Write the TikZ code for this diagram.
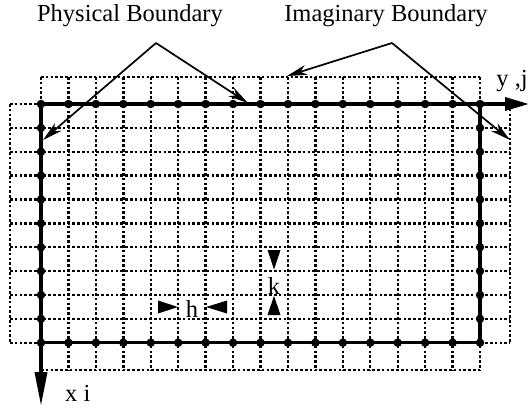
\documentclass[tikz,border=0pt]{standalone}
\usepackage{fontspec}
\setmainfont{Liberation Serif}
\usetikzlibrary{arrows.meta}
\begin{document}
\begin{tikzpicture}[x=1pt,y=-1pt,every node/.style={font=\fontsize{24.5}{28}\selectfont,inner sep=0pt},
  imag/.style={line width=2.4pt,dash pattern=on 2.6pt off 2.2pt},
  phys/.style={line width=3.5pt},
  ptr/.style={line width=1.7pt,-{Stealth[length=20pt,width=10pt,inset=6pt]}},
  gridpt/.style={circle,fill,inner sep=0pt,minimum size=8.5pt}]
\useasboundingbox (0,0) rectangle (530,410);
\def\h{27.44} \def\k{23.87}
% imaginary cells and inner grid
\foreach \i in {0,...,16} \draw[imag] (41+\i*\h,77) -- (41+\i*\h,370);
\foreach \j in {0,...,10} \draw[imag] (10,104+\j*\k) -- (510,104+\j*\k);
\draw[imag] (41,77) -- (480,77); \draw[imag] (41,370) -- (480,370);
\draw[imag] (10,104) -- (10,343); \draw[imag] (510,104) -- (510,343);
% physical boundary and axes
\coordinate (O) at (41,104);
\draw[phys] (O) rectangle (480,342.7);
\coordinate (yend) at (529,104); \coordinate (xend) at (41,406);
\draw[phys,-{Triangle[length=24pt,width=13pt]}] (O) -- (yend);
\draw[phys,-{Triangle[length=34pt,width=12pt]}] (O) -- (xend);
\foreach \i in {0,...,16} {\node[gridpt] (t\i) at (41+\i*\h,104) {}; \node[gridpt] (b\i) at (41+\i*\h,342.7) {};}
\foreach \j in {1,...,9} {\node[gridpt] (l\j) at (41,104+\j*\k) {}; \node[gridpt] (r\j) at (480,104+\j*\k) {};}
\node[anchor=base east] (ylab) at (528,86) {y ,j};
\node[anchor=base west] (xlab) at (65,401) {x i};
% h and k
\fill (158,300.5) -- (178,307) -- (158,313.5) -- cycle;
\fill (227,300.5) -- (206,307) -- (227,313.5) -- cycle;
\node[anchor=base] (hlab) at (192,317) {h};
\fill (267.5,250) -- (274,269.5) -- (280.5,250) -- cycle;
\fill (267.5,315) -- (274,296) -- (280.5,315) -- cycle;
\node[anchor=base] (klab) at (274,294) {k};
% boundary labels
\node[anchor=base] (plab) at (130,21) {Physical Boundary};
\node[anchor=base] (ilab) at (386,21) {Imaginary Boundary};
\coordinate (pa) at (156,43); \coordinate (pl) at (43,140); \coordinate (pt) at (248,103);
\coordinate (ia) at (392,43); \coordinate (il) at (287,76); \coordinate (ir) at (510,140);
\draw[ptr] (pa) -- (pl); \draw[ptr] (pa) -- (pt);
\draw[ptr] (ia) -- (il); \draw[ptr] (ia) -- (ir);
\end{tikzpicture}
\end{document}
